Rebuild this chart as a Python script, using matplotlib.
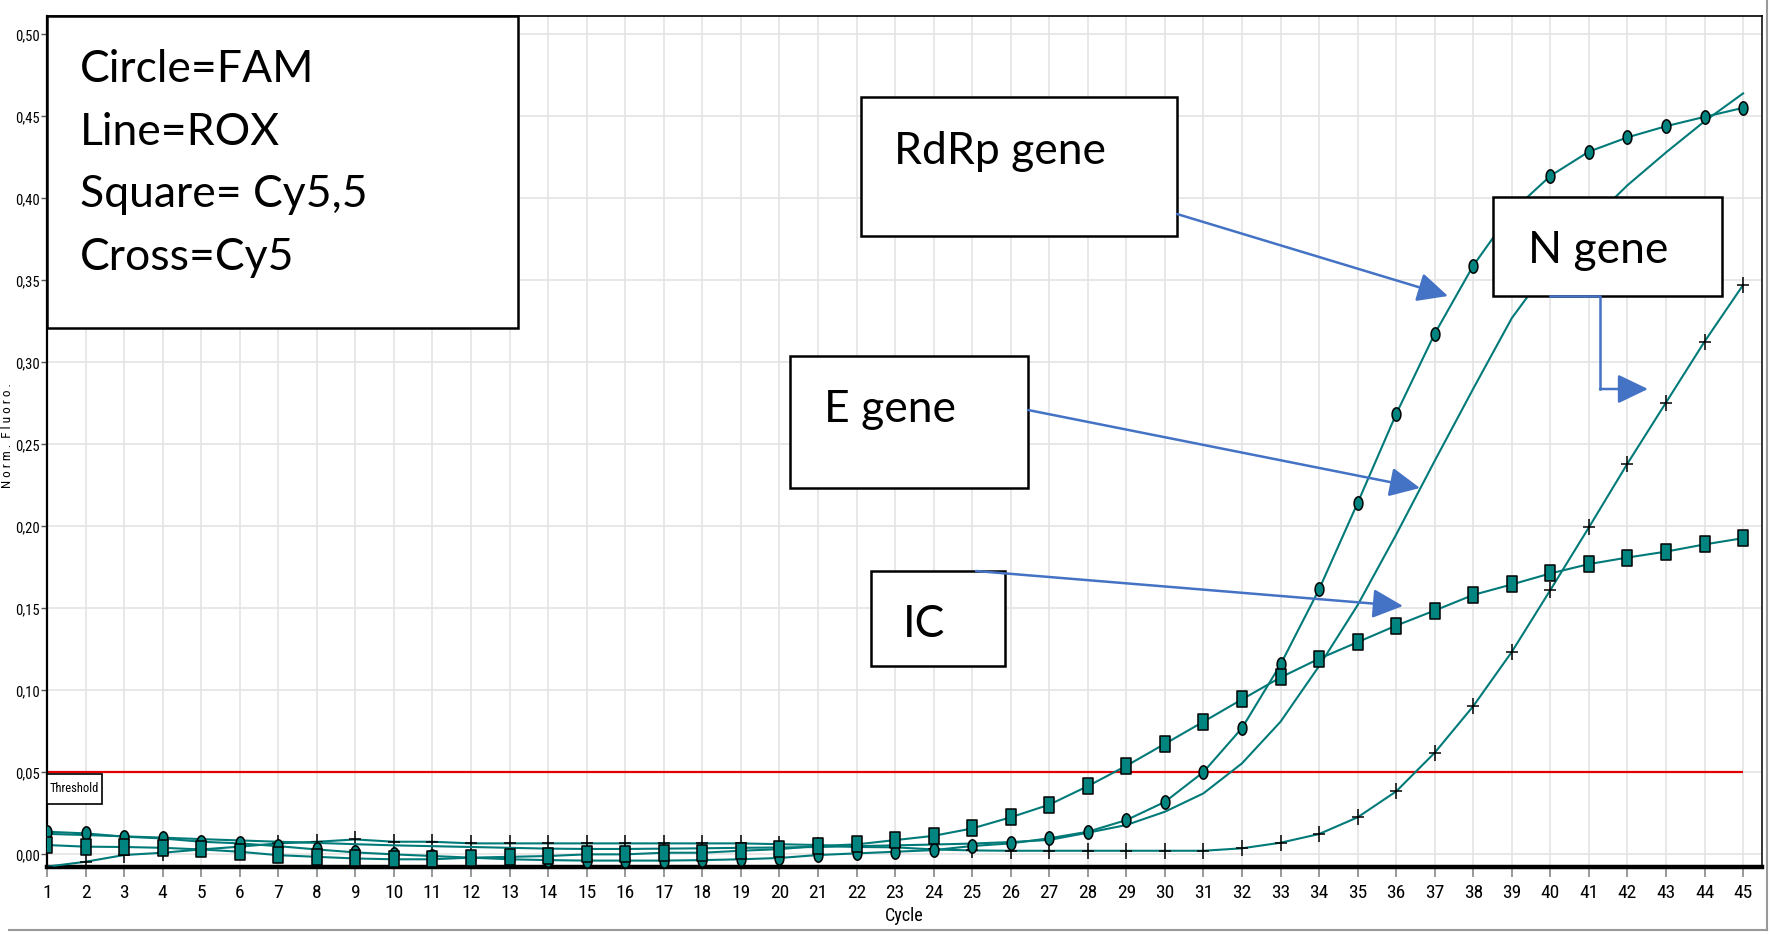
import numpy as np
import matplotlib
matplotlib.use("Agg")
import matplotlib.pyplot as plt
from matplotlib.path import Path
from matplotlib.patches import Rectangle, FancyArrowPatch
from matplotlib.lines import Line2D
from matplotlib.ticker import FuncFormatter, MultipleLocator

plt.rcParams['font.family'] = ['Liberation Sans Narrow', 'Roboto Condensed', 'Liberation Sans', 'DejaVu Sans']

cycles = np.arange(1, 46)

# Circle = FAM (RdRp gene)
fam = [0.0138, 0.0128, 0.0108, 0.0097, 0.0077, 0.0067, 0.0050, 0.0030, 0.0012, 0.0000,
       -0.0010, -0.0020, -0.0030, -0.0035, -0.0038, -0.0038, -0.0038, -0.0035, -0.0030, -0.0022,
       -0.0004, 0.0006, 0.0016, 0.0026, 0.0051, 0.0067, 0.0098, 0.0138, 0.0209, 0.0320,
       0.0502, 0.0770, 0.1158, 0.1616, 0.2143, 0.2685, 0.3175, 0.3590, 0.3920, 0.4137,
       0.4285, 0.4372, 0.4440, 0.4497, 0.4552]

# Line = ROX (E gene)
rox = [0.0125, 0.0118, 0.0110, 0.0102, 0.0093, 0.0085, 0.0077, 0.0070, 0.0062, 0.0055,
       0.0050, 0.0045, 0.0040, 0.0035, 0.0033, 0.0033, 0.0035, 0.0037, 0.0040, 0.0042,
       0.0045, 0.0050, 0.0055, 0.0060, 0.0066, 0.0075, 0.0088, 0.0132, 0.0179, 0.0260,
       0.0372, 0.0555, 0.0809, 0.1148, 0.1520, 0.1950, 0.2400, 0.2840, 0.3270, 0.3590,
       0.3850, 0.4080, 0.4280, 0.4470, 0.4640]

# Square = Cy5,5 (IC)
cy55 = [0.0057, 0.0047, 0.0045, 0.0040, 0.0030, 0.0016, -0.0005, -0.0015, -0.0025, -0.0030,
        -0.0030, -0.0020, -0.0015, -0.0010, 0.0000, 0.0000, 0.0010, 0.0010, 0.0022, 0.0032,
        0.0051, 0.0061, 0.0087, 0.0113, 0.0158, 0.0226, 0.0303, 0.0416, 0.0540, 0.0674,
        0.0809, 0.0945, 0.1079, 0.1193, 0.1294, 0.1395, 0.1487, 0.1582, 0.1646, 0.1713,
        0.1770, 0.1810, 0.1846, 0.1890, 0.1928]

# Cross = Cy5 (N gene)
cy5 = [-0.0075, -0.0045, -0.0004, 0.0010, 0.0030, 0.0047, 0.0067, 0.0077, 0.0091, 0.0077,
       0.0077, 0.0067, 0.0067, 0.0067, 0.0067, 0.0067, 0.0067, 0.0067, 0.0067, 0.0062,
       0.0057, 0.0045, 0.0043, 0.0030, 0.0024, 0.0022, 0.0022, 0.0022, 0.0022, 0.0022,
       0.0022, 0.0037, 0.0071, 0.0124, 0.0226, 0.0384, 0.0620, 0.0904, 0.1235, 0.1612,
       0.1994, 0.2383, 0.2755, 0.3127, 0.3472]

threshold = 0.05

legend_lines = ["Circle=FAM", "Line=ROX", "Square= Cy5,5", "Cross=Cy5"]

W, H = 1770, 935
teal = '#007a78'
teal_fill = '#00847f'
blue = '#4472c4'

# marker shapes (stretched vertically like the source)
t = np.linspace(0, 2 * np.pi, 41)
ellipse = Path(np.column_stack([0.33 * np.cos(t), 0.5 * np.sin(t)]), closed=True)
rect = Path([(-0.3, -0.5), (0.3, -0.5), (0.3, 0.5), (-0.3, 0.5), (-0.3, -0.5)], closed=True)
cross = Path([(-0.375, 0), (0.375, 0), (0, -0.5), (0, 0.5)],
             [Path.MOVETO, Path.LINETO, Path.MOVETO, Path.LINETO])

fig = plt.figure(figsize=(W / 100, H / 100), dpi=100)
ax = fig.add_axes([47 / W, 1 - 867 / H, (1762 - 47) / W, (867 - 16) / H])

ax.set_xlim(1, 45.49)
ax.set_ylim(-0.0077, 0.5112)
ax.xaxis.set_major_locator(MultipleLocator(1))
ax.yaxis.set_major_locator(MultipleLocator(0.05))
ax.yaxis.set_major_formatter(FuncFormatter(lambda v, p: f"{v:.2f}".replace('.', ',').replace('-', '')))
ax.grid(True, color='#e4e4e4', lw=1.2)
ax.set_axisbelow(True)

ax.tick_params(axis='y', length=4, width=1, color='#555', pad=1, labelsize=10.5)
ax.tick_params(axis='x', length=7, width=1.2, color='#888', pad=5, labelsize=14)

ax.spines['left'].set_linewidth(1.6)
ax.spines['bottom'].set_linewidth(3.2)
ax.spines['top'].set_linewidth(1.2)
ax.spines['right'].set_linewidth(1.4)
ax.spines['right'].set_color('#333')

ax.hlines(threshold, cycles[0], cycles[-1], color='#e00000', lw=1.6, zorder=2)

ax.plot(cycles, cy5, color=teal, lw=1.5, marker=cross, markersize=11.5,
        markeredgecolor='black', markerfacecolor='none', markeredgewidth=1.1, zorder=3)
ax.plot(cycles, rox, color=teal, lw=1.5, zorder=3)
ax.plot(cycles, fam, color=teal, lw=1.5, marker=ellipse, markersize=9.6,
        markerfacecolor=teal_fill, markeredgecolor='black', markeredgewidth=1.1, zorder=3)
ax.plot(cycles, cy55, color=teal, lw=1.5, marker=rect, markersize=11,
        markerfacecolor=teal_fill, markeredgecolor='black', markeredgewidth=1.1, zorder=4)

ax.set_xlabel("Cycle", fontsize=13, labelpad=4)
fig.text(8 / W, 1 - 435 / H, "N o r m .  F l u o r o .", rotation=90,
         ha='center', va='center', fontsize=9.5)


def fp(x, y):
    return (x / W, 1 - y / H)


def box(x0, y0, x1, y1, lw=1.8):
    fig.add_artist(Rectangle(fp(x0, y1), (x1 - x0) / W, (y1 - y0) / H,
                             transform=fig.transFigure, facecolor='white',
                             edgecolor='black', lw=lw, zorder=5))


def arrow(p0, p1):
    fig.add_artist(FancyArrowPatch(fp(*p0), fp(*p1), transform=fig.transFigure,
                                   arrowstyle='-|>,head_length=1.25,head_width=0.6',
                                   mutation_scale=15, color=blue, lw=1.8,
                                   shrinkA=0, shrinkB=0, zorder=6))


big = dict(family=['Lato', 'DejaVu Sans'], fontsize=32, zorder=7, va='baseline')

# threshold label
box(47, 774, 102, 804, lw=1.2)
fig.text(50 / W, 1 - 789 / H, "Threshold", fontsize=9, va='center', zorder=7)

# legend
box(47, 16, 518, 328)
for i, s in enumerate(legend_lines):
    fig.text(*fp(80, 82 + i * 62.7), s, **big)

# gene labels
box(861, 97, 1177, 236)
fig.text(*fp(894, 164), "RdRp gene", **big)
arrow((1177, 214), (1448, 296))

box(790, 356, 1028, 488)
fig.text(*fp(824, 422), "E gene", **big)
arrow((1028, 410), (1420, 488))

box(871, 571, 1005, 666)
fig.text(*fp(903, 637), "IC", **big)
arrow((976, 571), (1403, 606))

box(1493, 197, 1722, 296)
fig.text(*fp(1528, 263), "N gene", **big)
fig.add_artist(Line2D([1550 / W, 1600 / W, 1600 / W], [fp(0, 296)[1], fp(0, 296)[1], fp(0, 389)[1]],
                      transform=fig.transFigure, color=blue, lw=1.8, zorder=6))
arrow((1600, 389), (1648, 389))

# outer frame lines (bottom and right)
fig.add_artist(Line2D([0.005, 1767 / W], [fp(0, 930)[1]] * 2, transform=fig.transFigure,
                      color='#999', lw=1.5))
fig.add_artist(Line2D([1767 / W] * 2, [fp(0, 930)[1], 1.0], transform=fig.transFigure,
                      color='#999', lw=1.5))

fig.savefig("out.png", dpi=100)
